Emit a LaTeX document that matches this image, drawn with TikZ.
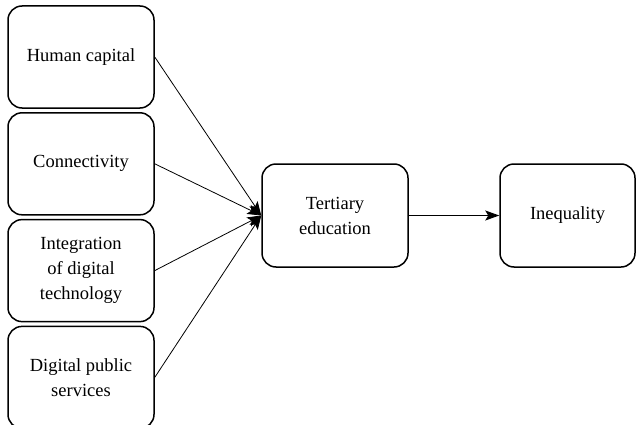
\documentclass[tikz,border=0pt]{standalone}
\usepackage{fontspec}
\setmainfont{Liberation Serif}
\usetikzlibrary{positioning,arrows.meta}

\tikzset{
  factor/.style={draw,line width=1.5pt,rounded corners=14pt,
                 minimum width=146pt,minimum height=102pt,align=center,
                 inner sep=4pt,font=\fontsize{18.5}{25}\selectfont},
  link/.style={-{Stealth[length=14pt,width=10pt,inset=3pt]},line width=0.8pt}
}

\begin{document}
\begin{tikzpicture}[x=1pt,y=1pt]
    \useasboundingbox (0,0) rectangle (636,424);
    \node[factor] (human) at (81,367) {Human capital};
    \node[factor,below=3.3pt of human] (connect) {Connectivity};
    \node[factor,below=3.3pt of connect] (integr) {Integration\\of digital\\technology};
    \node[factor,below=3.3pt of integr] (public) {Digital public\\services};
    \node[factor,minimum height=103pt] (tertiary) at (335,208.5) {Tertiary\\education};
    \node[factor,minimum width=135pt,minimum height=103pt] (inequal) at (567.5,208.5) {Inequality};
    \foreach \src in {human,connect,integr,public}
      \draw[link] (\src.east) -- (tertiary.west);
    \draw[link] (tertiary) -- (inequal);
  \end{tikzpicture}
\end{document}
